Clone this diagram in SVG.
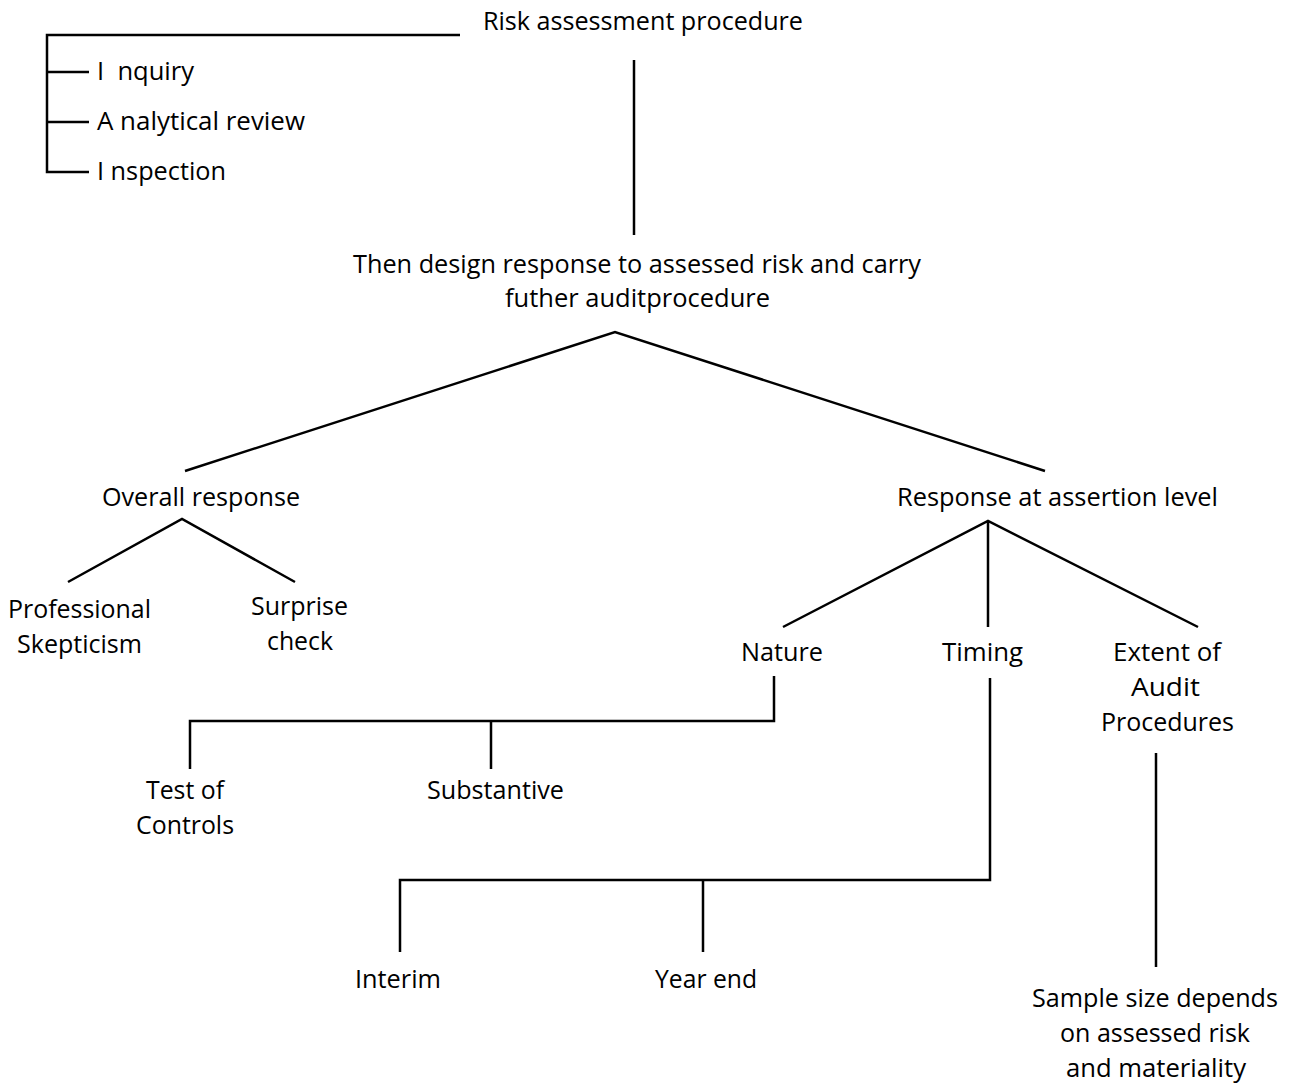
<svg xmlns="http://www.w3.org/2000/svg" width="1291" height="1083" viewBox="0 0 1291 1083">
  <style>
    text { font-family: "Open Sans", "Noto Sans", "Liberation Sans", sans-serif; font-size: 25px; fill: #000; }
    .ln { stroke: #000; stroke-width: 2.5; fill: none; stroke-linecap: butt; stroke-linejoin: miter; }
  </style>
  <rect width="1291" height="1083" fill="#fff"/>

  <!-- connectors -->
  <g id="connectors">
    <!-- risk assessment bracket -->
    <path class="ln" d="M460,35 H47 V172 H89"/>
    <path class="ln" d="M47,72 H89 M47,122 H89"/>
    <!-- risk assessment to design response -->
    <path class="ln" d="M634,60 V235"/>
    <!-- design response split -->
    <path class="ln" d="M185,471 L615,332 L1045,471"/>
    <!-- overall response split -->
    <path class="ln" d="M68,582 L182,519 L295,582"/>
    <!-- assertion level split -->
    <path class="ln" d="M783,627 L988,521 L1198,627 M988,521 V627"/>
    <!-- nature bracket -->
    <path class="ln" d="M774,676 V721 H190 V769 M491,721 V769"/>
    <!-- timing bracket -->
    <path class="ln" d="M990,678 V880 H400 V952 M703,880 V952"/>
    <!-- extent to sample size -->
    <path class="ln" d="M1156,753 V967"/>
  </g>

  <g id="risk-assessment">
    <text x="483" y="30" textLength="320" lengthAdjust="spacingAndGlyphs">Risk assessment procedure</text>
  </g>
  <g id="inquiry">
    <text x="97" y="80" textLength="97" lengthAdjust="spacingAndGlyphs" xml:space="preserve">I  nquiry</text>
  </g>
  <g id="analytical-review">
    <text x="97" y="130" textLength="208" lengthAdjust="spacingAndGlyphs">A nalytical review</text>
  </g>
  <g id="inspection">
    <text x="97" y="180" textLength="129" lengthAdjust="spacingAndGlyphs">I nspection</text>
  </g>
  <g id="design-response">
    <text x="353" y="273" textLength="568" lengthAdjust="spacingAndGlyphs">Then design response to assessed risk and carry</text>
    <text x="505" y="307" textLength="265" lengthAdjust="spacingAndGlyphs">futher auditprocedure</text>
  </g>
  <g id="overall-response">
    <text x="102" y="506" textLength="198" lengthAdjust="spacingAndGlyphs">Overall response</text>
  </g>
  <g id="assertion-level">
    <text x="897" y="506" textLength="321" lengthAdjust="spacingAndGlyphs">Response at assertion level</text>
  </g>
  <g id="professional-skepticism">
    <text x="8" y="618" textLength="143" lengthAdjust="spacingAndGlyphs">Professional</text>
    <text x="17" y="653" textLength="125" lengthAdjust="spacingAndGlyphs">Skepticism</text>
  </g>
  <g id="surprise-check">
    <text x="251" y="615" textLength="97" lengthAdjust="spacingAndGlyphs">Surprise</text>
    <text x="267" y="650" textLength="66" lengthAdjust="spacingAndGlyphs">check</text>
  </g>
  <g id="nature">
    <text x="741" y="661" textLength="82" lengthAdjust="spacingAndGlyphs">Nature</text>
  </g>
  <g id="timing">
    <text x="942" y="661" textLength="81" lengthAdjust="spacingAndGlyphs">Timing</text>
  </g>
  <g id="extent">
    <text x="1113" y="661" textLength="108" lengthAdjust="spacingAndGlyphs">Extent of</text>
    <text x="1131" y="696" textLength="69" lengthAdjust="spacingAndGlyphs">Audit</text>
    <text x="1101" y="731" textLength="133" lengthAdjust="spacingAndGlyphs">Procedures</text>
  </g>
  <g id="test-of-controls">
    <text x="146" y="799" textLength="78" lengthAdjust="spacingAndGlyphs">Test of</text>
    <text x="136" y="834" textLength="98" lengthAdjust="spacingAndGlyphs">Controls</text>
  </g>
  <g id="substantive">
    <text x="427" y="799" textLength="137" lengthAdjust="spacingAndGlyphs">Substantive</text>
  </g>
  <g id="interim">
    <text x="355" y="988" textLength="86" lengthAdjust="spacingAndGlyphs">Interim</text>
  </g>
  <g id="year-end">
    <text x="655" y="988" textLength="102" lengthAdjust="spacingAndGlyphs">Year end</text>
  </g>
  <g id="sample-size">
    <text x="1032" y="1007" textLength="246" lengthAdjust="spacingAndGlyphs">Sample size depends</text>
    <text x="1060" y="1042" textLength="190" lengthAdjust="spacingAndGlyphs">on assessed risk</text>
    <text x="1066" y="1077" textLength="180" lengthAdjust="spacingAndGlyphs">and materiality</text>
  </g>
</svg>
